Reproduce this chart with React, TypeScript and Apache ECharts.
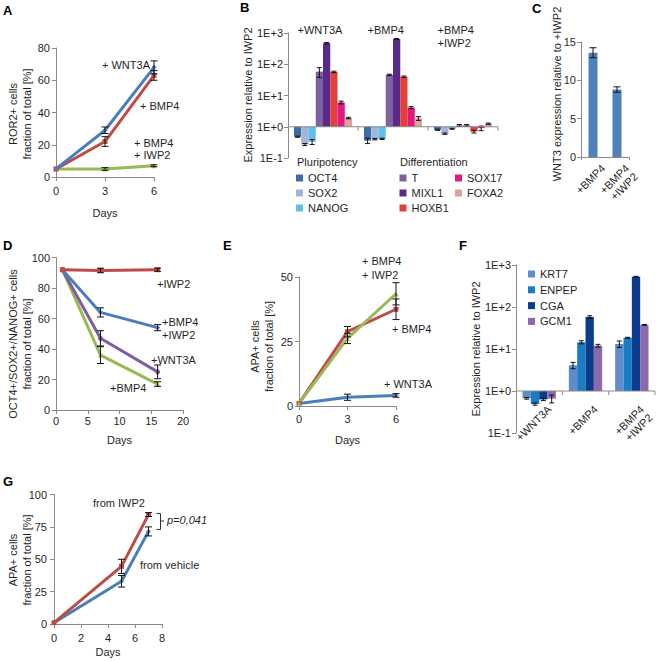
import React, { useEffect, useRef } from 'react';
import * as echarts from 'echarts';

const FONT = "'Liberation Sans', Arial, Helvetica, sans-serif";
const AXIS = '#8a8a8a';
const INK = '#1f1f1f';
const BLUE = '#4A7EBB';
const RED = '#BE4B48';
const GREEN = '#98B954';
const PURPLE = '#7D5FA0';

// ---------- Panel A ----------
const aDays = [0, 3, 6];
const aXTicks = [0, 3, 6];
const aYTicks = [0, 20, 40, 60, 80];
const aWnt3a = [5, 29, 68];
const aWnt3aErr = [0, 2, 4];
const aBmp4 = [5, 22, 63];
const aBmp4Err = [0, 3, 3];
const aBmp4Iwp2 = [5, 5, 7];
const aBmp4Iwp2Err = [0, 0.8, 0.6];

// ---------- Panel B ----------
const bGroups = ['+WNT3A', '+BMP4', '+BMP4\n+IWP2'];
const bYTicks = [0.1, 1, 10, 100, 1000];
const bOCT4 = [0.48, 0.36, 0.8];
const bOCT4Err = [0.02, 0.07, 0.03];
const bSOX2 = [0.27, 0.4, 0.6];
const bSOX2Err = [0.02, 0.02, 0.03];
const bNANOG = [0.33, 0.41, 0.86];
const bNANOGErr = [0.06, 0.02, 0.03];
const bT = [58, 46, 1.1];
const bTErr = [20, 2, 0.08];
const bMIXL1 = [470, 640, 1.1];
const bMIXL1Err = [25, 25, 0.08];
const bHOXB1 = [57, 40, 0.7];
const bHOXB1Err = [3, 2, 0.07];
const bSOX17 = [6.0, 4.1, 0.9];
const bSOX17Err = [0.6, 0.3, 0.15];
const bFOXA2 = [1.9, 1.85, 1.25];
const bFOXA2Err = [0.1, 0.25, 0.06];

// ---------- Panel C ----------
const cCats = ['+BMP4', '+BMP4\n+IWP2'];
const cYTicks = [0, 5, 10, 15];
const cWnt3 = [13.6, 8.8];
const cWnt3Err = [0.65, 0.35];

// ---------- Panel D ----------
const dDays = [1, 7, 16];
const dXTicks = [0, 5, 10, 15, 20];
const dYTicks = [0, 20, 40, 60, 80, 100];
const dIwp2 = [92, 91.5, 92];
const dIwp2Err = [0, 1.5, 1];
const dBmp4Iwp2 = [92, 64, 54];
const dBmp4Iwp2Err = [0, 3, 2];
const dWnt3a = [92, 47, 25];
const dWnt3aErr = [0, 5, 4.5];
const dBmp4 = [92, 36, 17];
const dBmp4Err = [0, 5.5, 1.5];

// ---------- Panel E ----------
const eDays = [0, 3, 6];
const eXTicks = [0, 3, 6];
const eYTicks = [0, 25, 50];
const eWnt3a = [1, 3.4, 4.1];
const eWnt3aErr = [0, 1.2, 0.7];
const eBmp4 = [1, 28.8, 37.5];
const eBmp4Err = [0, 2, 4];
const eBmp4Iwp2 = [1, 26.2, 43.5];
const eBmp4Iwp2Err = [0, 2, 4.3];

// ---------- Panel F ----------
const fGroups = ['+WNT3A', '+BMP4', '+BMP4\n+IWP2'];
const fYTicks = [0.1, 1, 10, 100, 1000];
const fKRT7 = [0.67, 4.1, 13.2];
const fKRT7Err = [0.03, 0.7, 2.3];
const fENPEP = [0.49, 14.5, 18.5];
const fENPEPErr = [0.03, 1.2, 0.5];
const fCGA = [0.63, 58, 525];
const fCGAErr = [0.04, 4, 12];
const fGCM1 = [0.66, 12, 37.5];
const fGCM1Err = [0.14, 0.9, 0.8];

// ---------- Panel G ----------
const gDays = [0, 5, 7];
const gXTicks = [0, 2, 4, 6, 8];
const gYTicks = [0, 25, 50, 75, 100];
const gFromIwp2 = [1, 44.5, 84.5];
const gFromIwp2Err = [0, 5.5, 1.5];
const gFromVehicle = [1, 33, 71.5];
const gFromVehicleErr = [0, 4.5, 3.5];

const bDefs = [
  { name: 'OCT4', v: bOCT4, e: bOCT4Err, color: '#3E6DA6' },
  { name: 'SOX2', v: bSOX2, e: bSOX2Err, color: '#A4B4D9' },
  { name: 'NANOG', v: bNANOG, e: bNANOGErr, color: '#5FBFE8' },
  { name: 'T', v: bT, e: bTErr, color: '#7E60A0' },
  { name: 'MIXL1', v: bMIXL1, e: bMIXL1Err, color: '#5A2A8A' },
  { name: 'HOXB1', v: bHOXB1, e: bHOXB1Err, color: '#E3403A' },
  { name: 'SOX17', v: bSOX17, e: bSOX17Err, color: '#E0197F' },
  { name: 'FOXA2', v: bFOXA2, e: bFOXA2Err, color: '#DBA29E' },
];
const fDefs = [
  { name: 'KRT7', v: fKRT7, e: fKRT7Err, color: '#5E8DC9' },
  { name: 'ENPEP', v: fENPEP, e: fENPEPErr, color: '#1C7BC5' },
  { name: 'CGA', v: fCGA, e: fCGAErr, color: '#0C3D8C' },
  { name: 'GCM1', v: fGCM1, e: fGCM1Err, color: '#8C69AC' },
];

const labelStyle = { color: INK, fontSize: 11, fontFamily: FONT };
const ERR = { stroke: '#111', lineWidth: 1 };

function valueAxis(grid: number, ticks: number[], labelMargin = 6, name = '', nameGap = 22) {
  const ax: any = {
    type: 'value',
    gridIndex: grid,
    min: ticks[0],
    max: ticks[ticks.length - 1],
    interval: ticks[1] - ticks[0],
    axisLine: { show: true, onZero: false, lineStyle: { color: AXIS, width: 1 } },
    axisTick: { show: true, length: 4, lineStyle: { color: AXIS } },
    splitLine: { show: false },
    axisLabel: { ...labelStyle, margin: labelMargin },
  };
  if (name) {
    ax.name = name;
    ax.nameLocation = 'middle';
    ax.nameGap = nameGap;
    ax.nameTextStyle = { ...labelStyle };
  }
  return ax;
}

function logAxis(grid: number, ticks: number[]) {
  return {
    type: 'log',
    gridIndex: grid,
    logBase: 10,
    min: ticks[0],
    max: ticks[ticks.length - 1],
    axisLine: { show: true, lineStyle: { color: AXIS, width: 1 } },
    axisTick: { show: true, length: 4, lineStyle: { color: AXIS } },
    minorTick: { show: false },
    splitLine: { show: false },
    axisLabel: {
      ...labelStyle,
      margin: 5,
      formatter: (v: number) => {
        const e = Math.round(Math.log10(v));
        return '1E' + (e < 0 ? '-' : '+') + Math.abs(e);
      },
    },
  };
}

function errRender(params: any, api: any) {
  const x = api.value(0);
  const y = api.value(1);
  const e = api.value(2);
  if (!e) return { type: 'group', children: [] };
  const hi = api.coord([x, y + e]);
  const lo = api.coord([x, y - e]);
  const cap = 3.5;
  return {
    type: 'group',
    children: [
      { type: 'line', shape: { x1: hi[0], y1: hi[1], x2: lo[0], y2: lo[1] }, style: ERR },
      { type: 'line', shape: { x1: hi[0] - cap, y1: hi[1], x2: hi[0] + cap, y2: hi[1] }, style: ERR },
      { type: 'line', shape: { x1: lo[0] - cap, y1: lo[1], x2: lo[0] + cap, y2: lo[1] }, style: ERR },
    ],
  };
}

function lineWithErr(grid: number, name: string, xs: number[], ys: number[], es: number[], color: string, symbol: string) {
  return [
    {
      type: 'line',
      name,
      xAxisIndex: grid,
      yAxisIndex: grid,
      data: xs.map((x, i) => [x, ys[i]]),
      lineStyle: { color, width: 3 },
      itemStyle: { color },
      symbol,
      symbolSize: 5,
      z: 2,
      silent: true,
    },
    {
      type: 'custom',
      name: name + ' err',
      xAxisIndex: grid,
      yAxisIndex: grid,
      data: xs.map((x, i) => [x, ys[i], es[i]]),
      renderItem: errRender,
      z: 4,
      silent: true,
    },
  ];
}

function groupedBars(grid: number, defs: any[], gap: number) {
  const n = defs.length;
  return defs.map((d, idx) => ({
    type: 'custom',
    name: d.name,
    xAxisIndex: grid,
    yAxisIndex: grid,
    itemStyle: { color: d.color },
    silent: true,
    z: 2,
    data: d.v.map((v: number, i: number) => [i, v, d.e[i]]),
    renderItem: (params: any, api: any) => {
      const cat = api.value(0);
      const v = api.value(1);
      const e = api.value(2);
      const base = api.coord([cat, 1]);
      const band = api.coord([1, 1])[0] - api.coord([0, 1])[0];
      const groupW = band * (1 - gap);
      const bw = groupW / n;
      const x0 = base[0] - groupW / 2 + idx * bw;
      const top = api.coord([cat, v]);
      const hi = api.coord([cat, v + e])[1];
      const lo = api.coord([cat, v - e])[1];
      const xm = x0 + bw / 2;
      const cap = 2.5;
      return {
        type: 'group',
        children: [
          {
            type: 'rect',
            shape: { x: x0, y: Math.min(base[1], top[1]), width: bw, height: Math.abs(base[1] - top[1]) },
            style: { fill: d.color },
          },
          { type: 'line', z2: 10, shape: { x1: xm, y1: hi, x2: xm, y2: lo }, style: ERR },
          { type: 'line', z2: 10, shape: { x1: xm - cap, y1: hi, x2: xm + cap, y2: hi }, style: ERR },
          { type: 'line', z2: 10, shape: { x1: xm - cap, y1: lo, x2: xm + cap, y2: lo }, style: ERR },
        ],
      };
    },
  }));
}

// baseline at 1E+0 with category ticks, plus category texts
function baselineSeries(grid: number, cats: string[], mode: 'top' | 'rotated') {
  return {
    type: 'custom',
    xAxisIndex: grid,
    yAxisIndex: grid,
    silent: true,
    z: 3,
    data: cats.map((c, i) => [i, 1]),
    renderItem: (params: any, api: any) => {
      const i = api.value(0);
      const c = api.coord([i, 1]);
      const band = api.coord([1, 1])[0] - api.coord([0, 1])[0];
      const left = c[0] - band / 2;
      const right = c[0] + band / 2;
      const ax = { stroke: AXIS, lineWidth: 1 };
      const children: any[] = [
        { type: 'line', shape: { x1: left, y1: c[1], x2: right, y2: c[1] }, style: ax },
        { type: 'line', shape: { x1: right, y1: c[1], x2: right, y2: c[1] + 4 }, style: ax },
      ];
      if (mode === 'top') {
        const topY = api.coord([i, 1000])[1];
        children.push({
          type: 'text',
          x: left + 9.5,
          y: topY - 9.5,
          style: { text: cats[i], fontSize: 11, fontFamily: FONT, fill: INK, align: 'left', verticalAlign: 'top', lineHeight: 13 },
        });
      } else {
        children.push({
          type: 'text',
          x: c[0] + 6,
          y: c[1] + 12,
          rotation: Math.PI / 4,
          style: { text: cats[i], fontSize: 11, fontFamily: FONT, fill: INK, align: 'right', verticalAlign: 'top', lineHeight: 12 },
        });
      }
      return { type: 'group', children };
    },
  };
}

function T(x: number, y: number, text: string, o: any = {}) {
  return {
    type: 'text',
    x,
    y,
    silent: true,
    style: { text, fontSize: 11, fontFamily: FONT, fill: INK, align: 'left', verticalAlign: 'middle', ...o },
  };
}
function letter(x: number, y: number, s: string) {
  return T(x, y, s, { fontSize: 13, fontWeight: 'bold', fill: '#000' });
}
function vTitle(x: number, y: number, s: string) {
  return {
    type: 'text',
    x,
    y,
    rotation: Math.PI / 2,
    silent: true,
    style: { text: s, fontSize: 11, fontFamily: FONT, fill: INK, align: 'center', verticalAlign: 'middle', lineHeight: 14 },
  };
}

function legend(left: number, top: number, names: string[]) {
  return {
    orient: 'vertical',
    left,
    top,
    padding: 0,
    itemWidth: 7,
    itemHeight: 7,
    itemGap: 4,
    icon: 'rect',
    selectedMode: false,
    textStyle: { ...labelStyle },
    data: names,
  };
}

function buildOption(): any {
  const grids = [
    { left: 56, top: 48, width: 98, height: 129 }, // A
    { left: 288, top: 33, width: 210, height: 125 }, // B
    { left: 581, top: 42, width: 48, height: 115 }, // C
    { left: 56, top: 257.5, width: 127, height: 152.5 }, // D
    { left: 299, top: 277, width: 97, height: 129 }, // E
    { left: 516, top: 265, width: 139, height: 168 }, // F
    { left: 54, top: 494.5, width: 108, height: 129.5 }, // G
  ].map((g) => ({ ...g, containLabel: false, outerBoundsMode: 'none', show: false }));

  const xAxis: any[] = [
    valueAxis(0, aXTicks, 8, 'Days', 30),
    { type: 'category', gridIndex: 1, data: bGroups, show: false },
    {
      type: 'category',
      gridIndex: 2,
      data: cCats,
      axisLine: { show: true, lineStyle: { color: AXIS } },
      axisTick: { show: true, length: 3, lineStyle: { color: AXIS } },
      axisLabel: { show: false },
    },
    valueAxis(3, dXTicks, 5, 'Days', 24),
    valueAxis(4, eXTicks, 7, 'Days', 28),
    { type: 'category', gridIndex: 5, data: fGroups, show: false },
    valueAxis(6, gXTicks, 8, 'Days', 22),
  ];
  const yAxis: any[] = [
    valueAxis(0, aYTicks),
    logAxis(1, bYTicks),
    valueAxis(2, cYTicks, 5),
    valueAxis(3, dYTicks),
    valueAxis(4, eYTicks),
    logAxis(5, fYTicks),
    valueAxis(6, gYTicks, 7),
  ];

  const series: any[] = [
    // A
    ...lineWithErr(0, '+BMP4 +IWP2 A', aDays, aBmp4Iwp2, aBmp4Iwp2Err, GREEN, 'triangle'),
    ...lineWithErr(0, '+BMP4 A', aDays, aBmp4, aBmp4Err, RED, 'rect'),
    ...lineWithErr(0, '+WNT3A A', aDays, aWnt3a, aWnt3aErr, BLUE, 'diamond'),
    // B
    ...groupedBars(1, bDefs, 0.17),
    baselineSeries(1, bGroups, 'top'),
    // C
    {
      type: 'bar',
      name: 'WNT3',
      xAxisIndex: 2,
      yAxisIndex: 2,
      data: cWnt3,
      barWidth: 9,
      itemStyle: { color: '#4F81BD' },
      silent: true,
    },
    {
      type: 'custom',
      xAxisIndex: 2,
      yAxisIndex: 2,
      silent: true,
      z: 4,
      data: cWnt3.map((v, i) => [i, v, cWnt3Err[i]]),
      renderItem: errRender,
    },
    {
      type: 'custom',
      xAxisIndex: 2,
      yAxisIndex: 2,
      silent: true,
      data: cCats.map((c, i) => [i, 0]),
      renderItem: (params: any, api: any) => {
        const i = api.value(0);
        const c = api.coord([i, 0]);
        return {
          type: 'text',
          x: c[0] + 6,
          y: c[1] + 5,
          rotation: Math.PI / 4,
          style: { text: cCats[i], fontSize: 11, fontFamily: FONT, fill: INK, align: 'right', verticalAlign: 'top', lineHeight: 12 },
        };
      },
    },
    // D
    ...lineWithErr(3, '+BMP4 D', dDays, dBmp4, dBmp4Err, GREEN, 'triangle'),
    ...lineWithErr(3, '+WNT3A D', dDays, dWnt3a, dWnt3aErr, PURPLE, 'circle'),
    ...lineWithErr(3, '+BMP4 +IWP2 D', dDays, dBmp4Iwp2, dBmp4Iwp2Err, BLUE, 'diamond'),
    ...lineWithErr(3, '+IWP2 D', dDays, dIwp2, dIwp2Err, RED, 'rect'),
    // E
    ...lineWithErr(4, '+WNT3A E', eDays, eWnt3a, eWnt3aErr, BLUE, 'diamond'),
    ...lineWithErr(4, '+BMP4 E', eDays, eBmp4, eBmp4Err, RED, 'rect'),
    ...lineWithErr(4, '+BMP4 +IWP2 E', eDays, eBmp4Iwp2, eBmp4Iwp2Err, GREEN, 'triangle'),
    // F
    ...groupedBars(5, fDefs, 0.28),
    baselineSeries(5, fGroups, 'rotated'),
    // G
    ...lineWithErr(6, 'from vehicle', gDays, gFromVehicle, gFromVehicleErr, BLUE, 'diamond'),
    ...lineWithErr(6, 'from IWP2', gDays, gFromIwp2, gFromIwp2Err, RED, 'rect'),
  ];

  const graphic: any[] = [
    letter(3, 10, 'A'),
    letter(240, 7, 'B'),
    letter(532, 8, 'C'),
    letter(3, 245, 'D'),
    letter(223, 245, 'E'),
    letter(459, 245, 'F'),
    letter(3, 481, 'G'),
    // axis titles
    vTitle(20, 114, 'ROR2+ cells\nfraction of total [%]'),
    vTitle(248, 95, 'Expression relative to IWP2'),
    vTitle(557, 94, 'WNT3 expression relative to +IWP2'),
    vTitle(20, 344, 'OCT4+/SOX2+/NANOG+ cells\nfraction of total [%]'),
    vTitle(261.5, 346.5, 'APA+ cells\nfraction of total [%]'),
    vTitle(476, 349, 'Expression relative to IWP2'),
    vTitle(20, 560, 'APA+ cells\nfraction of total [%]'),
    // A annotations
    T(102, 65, '+ WNT3A'),
    T(140, 106, '+ BMP4'),
    T(134, 143, '+ BMP4'),
    T(134, 155, '+ IWP2'),
    // B legend headers
    T(297, 162, 'Pluripotency'),
    T(400, 162, 'Differentiation'),
    // D annotations
    T(157, 284, '+IWP2'),
    T(162, 322, '+BMP4'),
    T(162, 335, '+IWP2'),
    T(151, 360, '+WNT3A'),
    T(110, 388, '+BMP4'),
    // E annotations
    T(362, 261, '+ BMP4'),
    T(362, 275, '+ IWP2'),
    T(392, 329, '+ BMP4'),
    T(384, 384, '+ WNT3A'),
    // G annotations
    T(93, 503, 'from IWP2'),
    T(140, 565, 'from vehicle'),
    T(167, 520, 'p=0,041', { fontStyle: 'italic' }),
    {
      type: 'polyline',
      silent: true,
      shape: { points: [[156.5, 513.5], [160.5, 513.5], [160.5, 529.5], [156.5, 529.5]] },
      style: { stroke: '#333', lineWidth: 1, fill: 'none' },
    },
    {
      type: 'line',
      silent: true,
      shape: { x1: 160.5, y1: 521, x2: 164, y2: 521 },
      style: { stroke: '#333', lineWidth: 1 },
    },
  ];

  return {
    animation: false,
    backgroundColor: '#ffffff',
    textStyle: { fontFamily: FONT },
    grid: grids,
    xAxis,
    yAxis,
    legend: [
      legend(296, 172.5, ['OCT4', 'SOX2', 'NANOG']),
      legend(399.5, 172.5, ['T', 'MIXL1', 'HOXB1']),
      legend(455, 172.5, ['SOX17', 'FOXA2']),
      { ...legend(528, 268.5, ['KRT7', 'ENPEP', 'CGA', 'GCM1']), itemGap: 4.8 },
    ],
    series,
    graphic,
  };
}

export default function App() {
  const ref = useRef<HTMLDivElement>(null);
  useEffect(() => {
    if (!ref.current) return;
    const chart = echarts.init(ref.current, undefined, { renderer: 'svg' });
    chart.setOption(buildOption());
    return () => chart.dispose();
  }, []);
  return (
    <div
      ref={ref}
      style={{ position: 'absolute', left: 0, top: 0, width: 656, height: 661, background: '#fff' }}
    />
  );
}
